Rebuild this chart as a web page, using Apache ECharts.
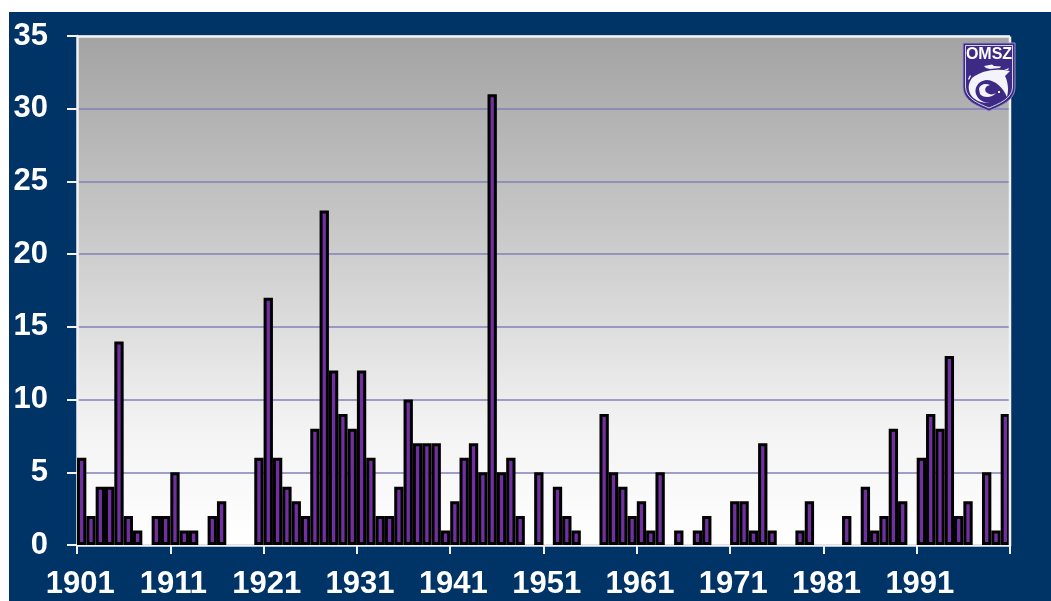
<!DOCTYPE html>
<html><head><meta charset="utf-8">
<script src="https://cdn.jsdelivr.net/npm/echarts@6/dist/echarts.min.js"></script>
<style>
html,body{margin:0;padding:0;background:#fff;overflow:hidden}
#bg{position:absolute;left:9px;top:12px;width:1042px;height:589px;background:#003366}
#c{position:absolute;left:0;top:0;width:1051px;height:601px}
</style></head><body><div id="bg"></div><div id="c"></div>
<script>
const years = [1901,1902,1903,1904,1905,1906,1907,1908,1909,1910,1911,1912,1913,1914,1915,1916,1917,1918,1919,1920,
1921,1922,1923,1924,1925,1926,1927,1928,1929,1930,1931,1932,1933,1934,1935,1936,1937,1938,1939,1940,
1941,1942,1943,1944,1945,1946,1947,1948,1949,1950,1951,1952,1953,1954,1955,1956,1957,1958,1959,1960,
1961,1962,1963,1964,1965,1966,1967,1968,1969,1970,1971,1972,1973,1974,1975,1976,1977,1978,1979,1980,
1981,1982,1983,1984,1985,1986,1987,1988,1989,1990,1991,1992,1993,1994,1995,1996,1997,1998,1999,2000];
const counts = [6,2,4,4,14,2,1,0,2,2,5,1,1,0,2,3,0,0,0,6,
17,6,4,3,2,8,23,12,9,8,12,6,2,2,4,10,7,7,7,1,
3,6,7,5,31,5,6,2,0,5,0,4,2,1,0,0,9,5,4,2,
3,1,5,0,1,0,1,2,0,0,3,3,1,7,1,0,0,1,3,0,
0,0,2,0,4,1,2,8,3,0,6,9,8,13,2,3,0,5,1,9];
const logoPaths = {
  shield:'M963 43 L1015 43 L1015 87 C1015 101 1000 106 989 111 C978 106 963 101 963 87 Z',
  rim:'M965.5 45.5 L1012.5 45.5 L1012.5 87 C1012.5 99 998 104 989 108 C980 104 965.5 99 965.5 87 Z',
  swirl:'M972 78 C982 70 996 68 1010 71 L1005 76 C1008 82 1009 90 1007 97 C1003 88 996 80 986 80 C978 81 974 88 976 94 C978 100 984 103 990 103 C980 104 970 98 969 90 C968 85 970 81 972 78 Z',
  core:'M979 89 C980 84 986 83 990 85 C986 86 984 89 986 92 C989 95 993 95 996 93 C992 98 983 98 980 94 Z',
  tail:'M984 66 L992 64.5 L994 66 L1001 66.5 L1000 68 L990 69 L986 68 Z M1004 70 L1009 68 L1008 70 Z M998 91 L1000 91 L1000 93 L998 93 Z M968 79 L970 75 L971 76 L969 80 Z'
};
Object.keys(logoPaths).forEach(k=>echarts.graphic.registerShape('logo_'+k, echarts.graphic.extendPath(logoPaths[k],{})));
const chart = echarts.init(document.getElementById('c'), null, {renderer:'canvas'});
const font = {color:'#fff', fontFamily:'"Liberation Sans",Arial,sans-serif', fontWeight:'bold', fontSize:31};
chart.setOption({
  animation:false,
  backgroundColor:'transparent',
  grid:{left:77,top:36,width:933,height:509,show:true,borderWidth:0,
    backgroundColor:new echarts.graphic.LinearGradient(0,0,0,1,[
      {offset:0,color:'#a3a3a3'},{offset:0.38,color:'#c8c8c8'},{offset:0.77,color:'#f3f3f3'},{offset:1,color:'#ffffff'}])},
  xAxis:{type:'category',data:years,
    axisLine:{show:true,onZero:false,lineStyle:{color:'#f2f2f2',width:2.5}},
    axisTick:{show:true,interval:9,length:9,lineStyle:{color:'#f2f2f2',width:2}},
    axisLabel:{...font,interval:9,margin:24,padding:[0,3,0,0]},
    splitLine:{show:false}},
  yAxis:{type:'value',min:0,max:35,interval:5,
    axisLine:{show:true,lineStyle:{color:'#f2f2f2',width:2.5}},
    axisTick:{show:true,length:10,lineStyle:{color:'#f2f2f2',width:2}},
    axisLabel:{...font,margin:29},
    splitLine:{show:true,lineStyle:{color:'#8080b8',width:1.5}}},
  series:[{type:'bar',barWidth:'100%',barGap:0,
    data:counts.map(v=>({value:v,itemStyle:{borderWidth:v===0?0:3}})),
    itemStyle:{color:'#7030a0',borderColor:'#000'}}],
  graphic:[
    {type:'line',z:10,shape:{x1:77,y1:36.5,x2:1010,y2:36.5},style:{stroke:'#f2f2f2',lineWidth:2.5}},
    {type:'line',z:10,shape:{x1:1010,y1:36.5,x2:1010,y2:545},style:{stroke:'#f2f2f2',lineWidth:2.5}},
    {type:'logo_shield',z:20,style:{fill:'#3d2a85',stroke:'#9a90c8',lineWidth:1}},
    {type:'logo_rim',z:21,style:{fill:'none',stroke:'#fff',lineWidth:0.8}},
    {type:'text',z:22,style:{x:989,y:55,text:'OMSZ',align:'center',verticalAlign:'middle',fill:'#fff',font:'bold 16px "Liberation Sans",sans-serif'}},
    {type:'logo_swirl',z:22,style:{fill:'#f4f2fa'}},
    {type:'logo_core',z:24,style:{fill:'#f4f2fa'}},
    {type:'logo_tail',z:24,style:{fill:'#f4f2fa'}}
  ]
});
</script></body></html>
